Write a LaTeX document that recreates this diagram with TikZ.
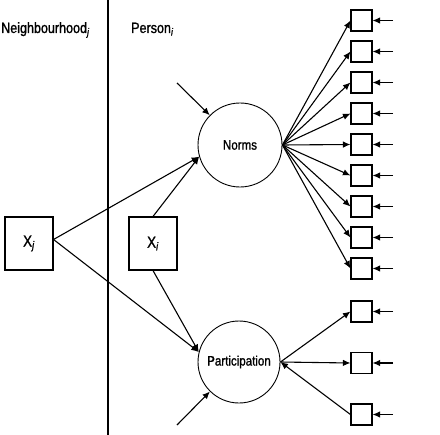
\documentclass[tikz,border=0pt]{standalone}
\usepackage{fontspec}
\setmainfont{Liberation Sans}[FakeStretch=0.84,FakeBold=1.2]
\usetikzlibrary{arrows.meta}
\begin{document}
\begin{tikzpicture}[x=1bp,y=-1bp,
  lw/.style={line width=1.1pt},
  arr/.style={lw,-{Latex[length=7.5bp,width=6.5bp]}},
  indic/.style={draw,lw,minimum width=21bp,minimum height=21bp,inner sep=0pt},
  cov/.style={draw,lw,minimum width=48bp,minimum height=53bp,inner sep=0pt,font=\fontsize{16}{18}\selectfont},
  latent/.style={draw,line width=0.9pt,circle,inner sep=0pt,font=\fontsize{13.8}{15}\selectfont},
  head/.style={anchor=base west,inner sep=0pt,font=\fontsize{15}{17}\selectfont}]
\useasboundingbox (0,0) rectangle (440,435);
% divider
\coordinate (dtop) at (108,0);
\coordinate (dbot) at (108,435);
\draw[lw] (dtop) -- (dbot);
% headers
\node[head] (hn) at (1,33) {Neighbourhood\textsubscript{\textit{j}}};
\node[head] (hp) at (131,33) {Person\textsubscript{\textit{i}}};
% covariates
\node[cov] (xj) at (29,243.5) {X\textsubscript{\textit{j}}};
\node[cov] (xi) at (153,243.5) {X\textsubscript{\textit{i}}};
% latent
\node[latent,minimum size=84bp] (norms) at (240,145) {Norms};
\node[latent,minimum size=82bp] (part) at (239,362) {Participation};
% disturbances to latents
\coordinate (en) at (177,83);
\coordinate (ep) at (177,425);
\draw[arr] (en) -- (norms);
\draw[arr] (ep) -- (part);
% paths
\draw[arr] ([yshift=4bp]xj.east) -- (norms.196);
\draw[arr] (xi.north) -- (norms.196);
\draw[arr] ([yshift=4bp]xj.east) -- (part.166);
\draw[arr] (xi.south) -- (part.166);
% norms indicators
\foreach \k in {1,...,9}{
  \node[indic] (n\k) at (361.5,{20.5+31*(\k-1)}) {};
  \coordinate (en\k) at (393,{20.5+31*(\k-1)});
  \draw[arr] (norms.east) -- (n\k.west);
  \draw[arr] (en\k) -- (n\k.east);
}
% participation indicators
\node[indic] (p1) at (361.5,311.5) {};
\node[indic] (p2) at (361.5,363) {};
\node[indic] (p3) at (361.5,414.5) {};
\coordinate (ep1) at (393,311.5);
\coordinate (ep2) at (393,363);
\coordinate (ep3) at (393,414.5);
\draw[arr] (ep1) -- (p1.east);
\draw[arr] (ep2) -- (p2.east);
\draw[arr] (ep3) -- (p3.east);
\draw[arr] (part.east) -- (p1.west);
\draw[arr] (part.east) -- (p2.west);
\draw[arr] (p3.west) -- (part.east);
\end{tikzpicture}
\end{document}
